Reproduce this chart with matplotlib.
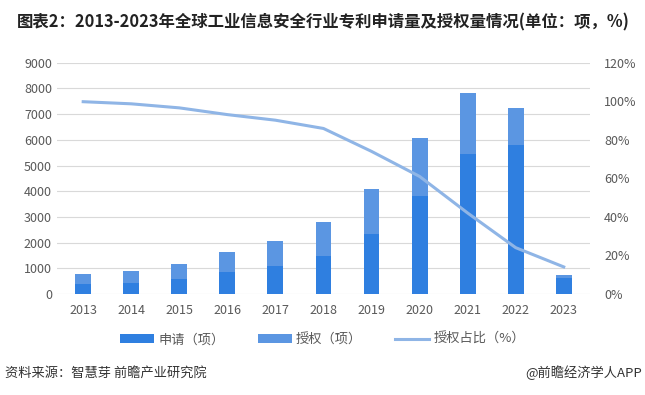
import numpy as np
import matplotlib.pyplot as plt

plt.rcParams['font.family'] = ['Noto Sans CJK SC', 'DejaVu Sans']

years = ['2013', '2014', '2015', '2016', '2017', '2018', '2019', '2020', '2021', '2022', '2023']
apply_cnt = [400, 440, 595, 845, 1100, 1490, 2350, 3800, 5465, 5815, 635]
grant_cnt = [390, 466, 585, 803, 976, 1327, 1750, 2290, 2350, 1442, 105]
grant_ratio = [99.8, 98.7, 96.6, 93.1, 90.2, 85.9, 74, 61, 42, 24, 14]

c_apply = '#2f7fe0'
c_grant = '#5b96e2'
c_line = '#8fb5e6'
c_text = '#595959'

fig = plt.figure(figsize=(6.45, 3.95), dpi=100)
ax = fig.add_axes([0.088, 0.256, 0.827, 0.585])
x = np.arange(len(years))

ax.bar(x, apply_cnt, width=0.33, color=c_apply, label='申请（项）', zorder=3)
ax.bar(x, grant_cnt, width=0.33, bottom=apply_cnt, color=c_grant, label='授权（项）', zorder=3)

ax.set_ylim(0, 9000)
ax.set_yticks(range(0, 9001, 1000))
ax.set_xlim(-0.55, len(years) - 0.45)
ax.set_xticks(x)
ax.set_xticklabels(years)
ax.yaxis.grid(True, color='#d9d9d9', linewidth=0.8, zorder=0)
for s in ax.spines.values():
    s.set_visible(False)
ax.tick_params(length=0, labelsize=9, colors=c_text)
ax.tick_params(axis='x', pad=7)

ax2 = ax.twinx()
ax2.plot(x, grant_ratio, color=c_line, linewidth=2.2, label='授权占比（%）', zorder=4)
ax2.set_ylim(0, 120)
ax2.set_yticks(range(0, 121, 20))
ax2.set_yticklabels([f'{v}%' for v in range(0, 121, 20)])
for s in ax2.spines.values():
    s.set_visible(False)
ax2.tick_params(length=0, labelsize=9, colors=c_text, pad=10)

h1, l1 = ax.get_legend_handles_labels()
h2, l2 = ax2.get_legend_handles_labels()
fig.legend(h1 + h2, l1 + l2, loc='center', bbox_to_anchor=(0.5, 0.14), ncol=3,
           frameon=False, fontsize=9.5, labelcolor=c_text, handlelength=2.6,
           handleheight=0.6, columnspacing=2.5, handletextpad=0.3)

fig.text(0.026, 0.944, '图表2：2013-2023年全球工业信息安全行业专利申请量及授权量情况(单位：项，%)',
         fontsize=11.8, fontweight='bold', color='#222222', va='center')
fig.text(0.008, 0.056, '资料来源：智慧芽 前瞻产业研究院', fontsize=9.5, color='#333333', va='center')
fig.text(0.995, 0.056, '@前瞻经济学人APP', fontsize=9.5, color='#333333', va='center', ha='right')

fig.savefig('out.png', dpi=100)
